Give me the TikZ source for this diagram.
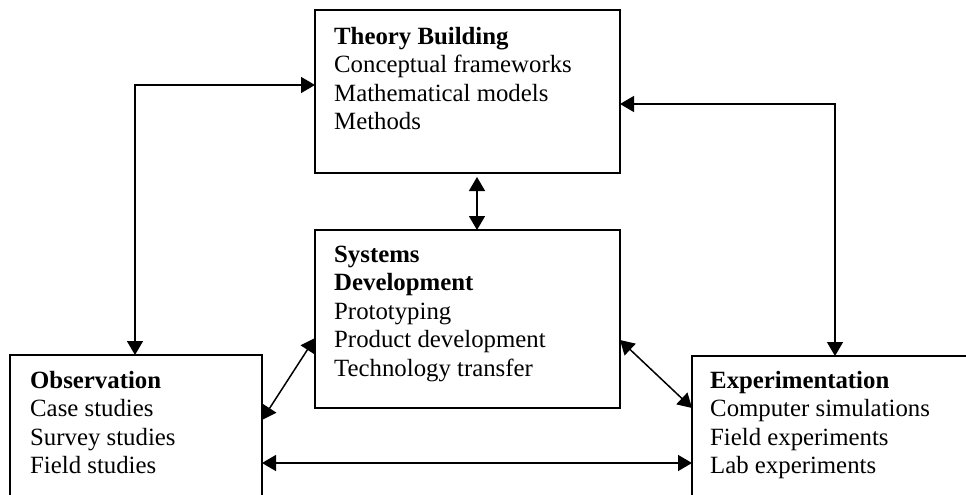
\documentclass[tikz,border=0pt]{standalone}
\usepackage{fontspec}
\setmainfont{Liberation Serif}
\usetikzlibrary{arrows.meta}
\begin{document}
\begin{tikzpicture}[x=1pt,y=-1pt,
  box/.style={draw,line width=1.6pt,inner sep=0pt,outer sep=0pt,anchor=north west},
  txt/.style={anchor=north west,inner sep=0pt,align=left,font=\fontsize{24.8}{28.5}\selectfont},
  arr/.style={line width=1.5pt,{Triangle[length=14pt,width=16pt]}-{Triangle[length=14pt,width=16pt]}}]
\useasboundingbox (0,0) rectangle (966,495);
\clip (0,0) rectangle (966,495);
\node[box,minimum width=305pt,minimum height=163pt] (theory) at (315,10) {};
\node[box,minimum width=305pt,minimum height=178pt] (sys) at (315,230) {};
\node[box,minimum width=252pt,minimum height=170pt] (obs) at (10,355) {};
\node[box,minimum width=320pt,minimum height=170pt] (exp) at (692,356) {};
\node[txt] (theorytxt) at (334,24) {\rule{0pt}{20pt}\textbf{Theory Building}\\Conceptual frameworks\\Mathematical models\\Methods};
\node[txt] (systxt) at (334,242) {\rule{0pt}{20pt}\textbf{Systems}\\\textbf{Development}\\Prototyping\\Product development\\Technology transfer};
\node[txt] (obstxt) at (30,368) {\rule{0pt}{20pt}\textbf{Observation}\\Case studies\\Survey studies\\Field studies};
\node[txt] (exptxt) at (710,368) {\rule{0pt}{20pt}\textbf{Experimentation}\\Computer simulations\\Field experiments\\Lab experiments};
\draw[arr] (135,0 |- obs.north) |- (theory.west |- 0,85);
\draw[arr] (theory.east |- 0,104) -| (835,0 |- exp.north);
\draw[arr,shorten <=4pt] (477,0 |- theory.south) -- (477,0 |- sys.north);
\draw[arr] (obs.east |- 0,420) -- (sys.west |- 0,338);
\draw[arr] (sys.east |- 0,340) -- (exp.west |- 0,408);
\draw[arr] (obs.east |- 0,463) -- (exp.west |- 0,463);
\end{tikzpicture}
\end{document}
